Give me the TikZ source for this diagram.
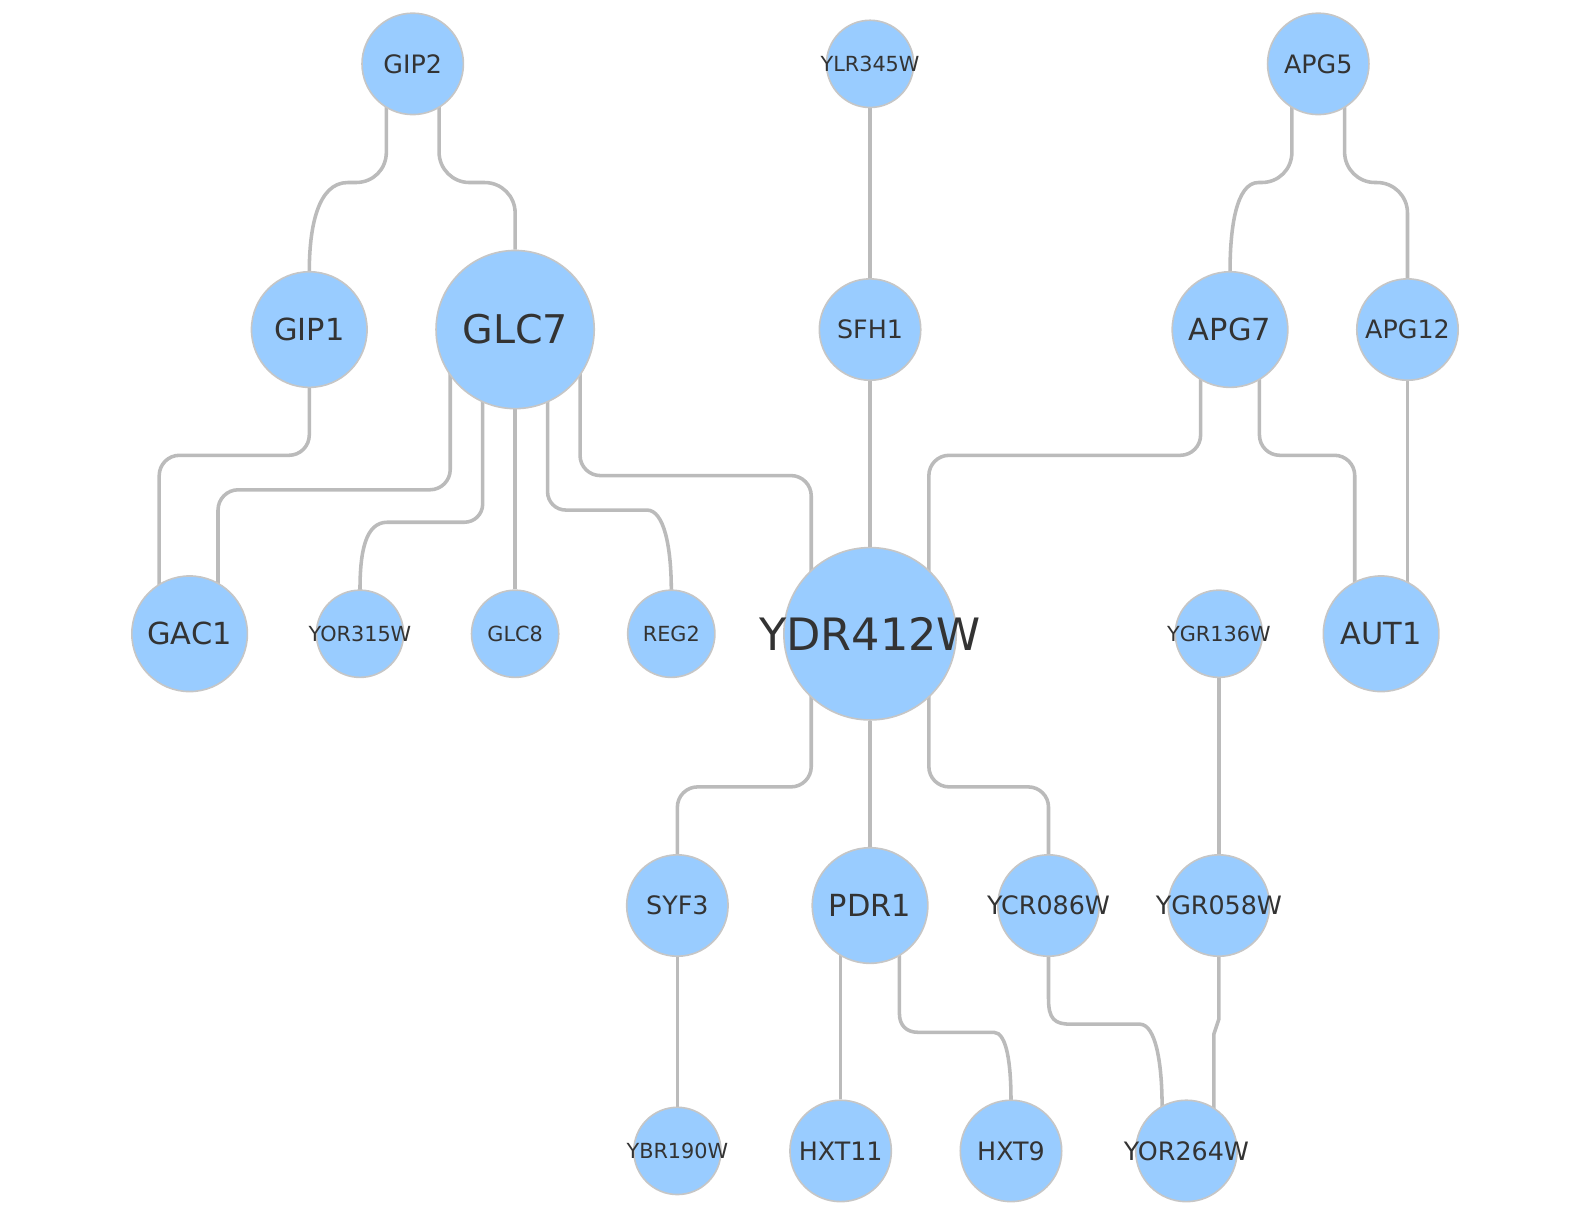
\documentclass[tikz,border=0pt]{standalone}
\usepackage{fontspec}
\setmainfont{DejaVu Sans}
\usetikzlibrary{calc}
\definecolor{nblue}{HTML}{99CCFF}
\definecolor{nborder}{HTML}{C6C6C6}
\definecolor{ecol}{HTML}{BBBBBB}
\definecolor{ntext}{HTML}{333333}
\pgfdeclarelayer{bg}
\pgfsetlayers{bg,main}
\newcommand\lbl[1]{\makebox[0pt]{#1}}
\begin{document}
\begin{tikzpicture}[x=1pt,y=-1pt,
  gnode/.style={circle, fill=nblue, draw=nborder, line width=1.6pt, inner sep=0pt, text=ntext},
  rA/.style={gnode, minimum size=86pt, font=\fontsize{20.5}{24}\selectfont},
  rB/.style={gnode, minimum size=100pt, font=\fontsize{25}{29}\selectfont},
  rC/.style={gnode, minimum size=114pt, font=\fontsize{30}{35}\selectfont},
  rD/.style={gnode, minimum size=156pt, font=\fontsize{39}{44}\selectfont},
  rE/.style={gnode, minimum size=170pt, font=\fontsize{44}{50}\selectfont},
  edge/.style={draw=ecol, line width=3.5pt, rounded corners=20pt},
  cedge/.style={draw=ecol, line width=3.5pt, sharp corners}]
\useasboundingbox (0,0) rectangle (1568,1198);
% row 1
\node[rB] (GIP2) at (407,63) {\lbl{GIP2}};
\node[rA] (YLR345W) at (858,63) {\lbl{YLR345W}};
\node[rB] (APG5) at (1300,63) {\lbl{APG5}};
% row 2
\node[rC] (GIP1) at (305,325) {\lbl{GIP1}};
\node[rD] (GLC7) at (508,325) {\lbl{GLC7}};
\node[rB] (SFH1) at (858,325) {\lbl{SFH1}};
\node[rC] (APG7) at (1213,325) {\lbl{APG7}};
\node[rB] (APG12) at (1388,325) {\lbl{APG12}};
% row 3
\node[rC] (GAC1) at (187,625) {\lbl{GAC1}};
\node[rA] (YOR315W) at (355,625) {\lbl{YOR315W}};
\node[rA] (GLC8) at (508,625) {\lbl{GLC8}};
\node[rA] (REG2) at (662,625) {\lbl{REG2}};
\node[rE] (YDR412W) at (858,625) {\lbl{YDR412W}};
\node[rA] (YGR136W) at (1202,625) {\lbl{YGR136W}};
\node[rC] (AUT1) at (1362,625) {\lbl{AUT1}};
% row 4
\node[rB] (SYF3) at (668,893) {\lbl{SYF3}};
\node[rC] (PDR1) at (858,893) {\lbl{PDR1}};
\node[rB] (YCR086W) at (1034,893) {\lbl{YCR086W}};
\node[rB] (YGR058W) at (1202,893) {\lbl{YGR058W}};
% row 5
\node[rA] (YBR190W) at (668,1135) {\lbl{YBR190W}};
\node[rB] (HXT11) at (829,1135) {\lbl{HXT11}};
\node[rB] (HXT9) at (997,1135) {\lbl{HXT9}};
\node[rB] (YOR264W) at (1170,1135) {\lbl{YOR264W}};

\begin{pgfonlayer}{bg}
\draw[cedge] ($(GIP2)+(-26,0)$) -- (381,150) .. controls (381,167) and (368,180) .. (351,180) -- (343,180) .. controls (313,180) and (305,225) .. ($(GIP1)+(0,-57)$) -- (GIP1);
\draw[edge, rounded corners=30pt] ($(GIP2)+(26,0)$) |- (508,180) -- (GLC7);
\draw[edge] (YLR345W) -- (SFH1);
\draw[edge] (SFH1) -- (YDR412W);
\draw[cedge] ($(APG5)+(-26,0)$) -- (1274,150) .. controls (1274,167) and (1261,180) .. (1244,180) -- (1241,180) .. controls (1219,180) and (1213,225) .. ($(APG7)+(0,-57)$) -- (APG7);
\draw[edge, rounded corners=30pt] ($(APG5)+(26,0)$) |- (1388,180) -- (APG12);
\draw[edge] (GIP1) -- (305,449) -| ($(GAC1)+(-30,0)$);
\draw[edge] ($(GLC7)+(-64,0)$) -- (444,483) -| ($(GAC1)+(28,0)$);
\draw[cedge] ($(GLC7)+(-32,0)$) -- (476,497) .. controls (476,507) and (468,515) .. (458,515) -- (382,515) .. controls (360,515) and (355,545) .. ($(YOR315W)+(0,-43)$) -- (YOR315W);
\draw[edge] (GLC7) -- (GLC8);
\draw[cedge] ($(GLC7)+(32,0)$) -- (540,485) .. controls (540,495) and (548,503) .. (558,503) -- (638,503) .. controls (655,503) and (662,540) .. ($(REG2)+(0,-43)$) -- (REG2);
\draw[edge] ($(GLC7)+(64,0)$) -- (572,469) -| ($(YDR412W)+(-58,0)$);
\draw[edge] ($(APG7)+(-29,0)$) -- (1184,449) -| ($(YDR412W)+(58,0)$);
\draw[edge] ($(APG7)+(29,0)$) -- (1242,449) -| ($(AUT1)+(-26,0)$);
\draw[edge] (APG12) -- ($(AUT1)+(26,0)$);
\draw[edge] (YGR136W) -- (YGR058W);
\draw[edge] ($(YDR412W)+(-58,0)$) -- (800,776) -| (SYF3);
\draw[edge] (YDR412W) -- (PDR1);
\draw[edge] ($(YDR412W)+(58,0)$) -- (916,776) -| (YCR086W);
\draw[edge] (SYF3) -- (YBR190W);
\draw[edge] ($(PDR1)+(-29,0)$) -- (HXT11);
\draw[cedge] ($(PDR1)+(29,0)$) -- (887,1000) .. controls (887,1011) and (894,1018) .. (905,1018) -- (980,1018) .. controls (993,1018) and (997,1050) .. ($(HXT9)+(0,-50)$) -- (HXT9);
\draw[cedge] (YCR086W) -- (1034,985) .. controls (1034,1005) and (1040,1010) .. (1056,1010) -- (1124,1010) .. controls (1140,1010) and (1146,1050) .. ($(YOR264W)+(-24,-44)$) -- ($(YOR264W)+(-24,0)$);
\draw[cedge] (YGR058W) -- (1202,1005) -- (1197,1020) -- ($(YOR264W)+(27,0)$);
\end{pgfonlayer}
\end{tikzpicture}
\end{document}
